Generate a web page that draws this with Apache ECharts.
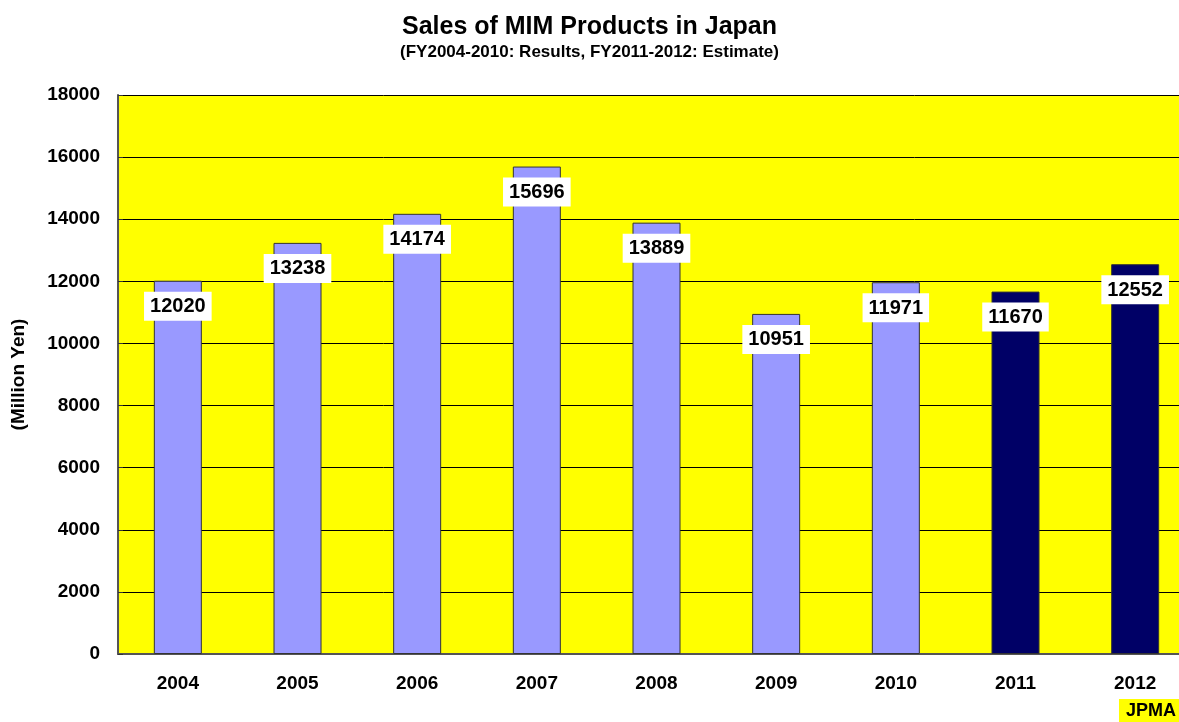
<!DOCTYPE html>
<html>
<head>
<meta charset="utf-8">
<script src="https://cdn.jsdelivr.net/npm/echarts@6/dist/echarts.min.js"></script>
<style>
  html, body { margin: 0; padding: 0; background: #fff; }
  #main { width: 1179px; height: 722px; }
</style>
</head>
<body>
<div id="main"></div>
<script>
// fiscal years and sales (million yen); 2011-2012 are estimates
var years = ["2004", "2005", "2006", "2007", "2008", "2009", "2010", "2011", "2012"];
var sales = [12020, 13238, 14174, 15696, 13889, 10951, 11971, 11670, 12552];
var isEstimate = [false, false, false, false, false, false, false, true, true];

var font = "Liberation Sans, Arial, sans-serif";

var chart = echarts.init(document.getElementById("main"));

var option = {
  backgroundColor: "#ffffff",
  animation: false,
  title: [
    {
      text: "Sales of MIM Products in Japan",
      left: "center",
      top: 10,
      textStyle: { fontFamily: font, fontSize: 25, fontWeight: "bold", color: "#000" },
    },
    {
      text: "(FY2004-2010: Results, FY2011-2012: Estimate)",
      left: "center",
      top: 39,
      textStyle: { fontFamily: font, fontSize: 17, fontWeight: "bold", color: "#000" },
    },
    {
      text: "JPMA",
      right: 0,
      bottom: 0,
      padding: [3, 3, 2, 7],
      backgroundColor: "#ffff00",
      textStyle: { fontFamily: font, fontSize: 18, fontWeight: "bold", color: "#000" },
    },
  ],
  grid: {
    left: 118,
    top: 95,
    width: 1077,
    height: 559,
    outerBoundsMode: "none",
    show: true,
    backgroundColor: "#ffff00",
    borderWidth: 0,
  },
  xAxis: {
    type: "category",
    data: years,
    axisLine: { lineStyle: { color: "#555", width: 2 } },
    axisTick: { inside: true, length: 4, lineStyle: { color: "#333" } },
    axisLabel: {
      margin: 20,
      fontFamily: font,
      fontSize: 19,
      fontWeight: "bold",
      color: "#000",
    },
  },
  yAxis: {
    type: "value",
    min: 0,
    max: 18000,
    interval: 2000,
    name: "(Million Yen)",
    nameLocation: "center",
    nameGap: 90,
    nameTextStyle: { fontFamily: font, fontSize: 19, fontWeight: "bold", color: "#000" },
    axisLine: { show: true, lineStyle: { color: "#555", width: 2 } },
    axisTick: { show: true, inside: true, length: 5, lineStyle: { color: "#333" } },
    splitLine: { lineStyle: { color: "#000", width: 1 } },
    axisLabel: {
      margin: 18,
      formatter: function (v) { return String(v); },
      fontFamily: font,
      fontSize: 19,
      fontWeight: "bold",
      color: "#000",
    },
  },
  series: [
    {
      type: "bar",
      barWidth: 48,
      data: sales.map(function (v, i) {
        return {
          value: v,
          itemStyle: { color: isEstimate[i] ? "#000066" : "#9999ff" },
        };
      }),
      itemStyle: { borderColor: "#333", borderWidth: 1 },
      label: {
        show: true,
        position: "insideTop",
        distance: 11,
        backgroundColor: "#ffffff",
        padding: [5, 6, 4, 6],
        fontFamily: font,
        fontSize: 20,
        fontWeight: "bold",
        color: "#000",
      },
    },
  ],
};

chart.setOption(option);
</script>
</body>
</html>
